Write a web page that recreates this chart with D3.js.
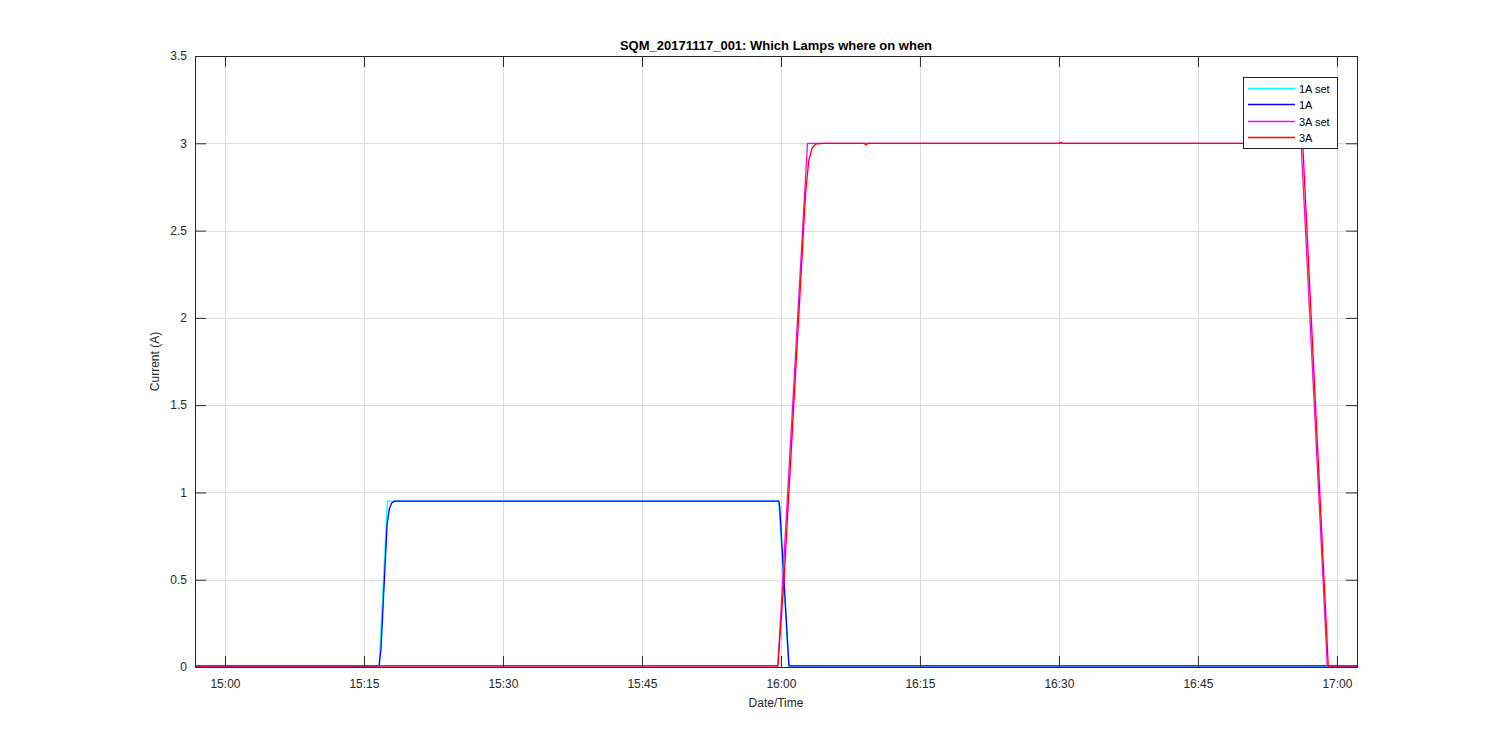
<!DOCTYPE html>
<meta charset="utf-8">
<body style="margin:0;background:#fff">
    <div id="chart"></div>
</body>
<script src="https://cdn.jsdelivr.net/npm/d3@7"></script>
<style>
    body { font-family: "Liberation Sans", Arial, sans-serif; }
    .grid line { stroke: #dcdcdc; stroke-width: 1px; }
    .tick text { font-size: 12px; fill: #262626; }
</style>
<script>
    // readings, 2017-11-17
    var set1aTimes = ["14:56:46", "15:16:38", "15:17:32", "15:59:46", "16:00:50", "17:02:10"];
    var set1aVals  = [0.006, 0.006, 0.95, 0.95, 0.007, 0.007];

    var meas1aTimes = ["14:56:46", "15:16:38", "15:16:50", "15:17:30", "15:17:45", "15:18:00", "15:18:20",
                       "15:59:46", "15:59:52", "16:00:52", "17:02:10"];
    var meas1aVals  = [0.006, 0.006, 0.1, 0.82, 0.91, 0.94, 0.95,
                       0.95, 0.92, 0.007, 0.007];

    var set3aTimes = ["14:56:46", "15:59:40", "16:02:52", "16:56:08", "16:58:58", "17:02:10"];
    var set3aVals  = [0.006, 0.006, 3.0, 3.0, 0.006, 0.006];

    var meas3aTimes = ["14:56:46", "15:59:40", "16:00:20", "16:02:40", "16:03:00", "16:03:20", "16:03:45", "16:04:30",
                       "16:09:00", "16:09:10", "16:09:25", "16:30:00", "16:30:10", "16:30:25",
                       "16:56:10", "16:56:20", "16:59:04", "17:02:10"];
    var meas3aVals  = [0.006, 0.006, 0.5, 2.72, 2.9, 2.97, 2.995, 3.0,
                       3.0, 2.99, 3.0, 3.0, 3.006, 3.0,
                       3.0, 2.97, 0.006, 0.006];

    var xTicks = ["15:00", "15:15", "15:30", "15:45", "16:00", "16:15", "16:30", "16:45", "17:00"];
    var yTicks = [0, 0.5, 1, 1.5, 2, 2.5, 3, 3.5];

    var legendNames = ["1A set", "1A", "3A set", "3A"];
    var lineColors  = ["#00ffff", "#0000ff", "#ff00ff", "#ff0000"];

    var width = 1500,
        height = 750;
    var plotL = 195, plotR = 1357, plotT = 56, plotB = 667;

    var parse = d3.timeParse("%Y-%m-%d %H:%M:%S");
    function toDate(t) {
        if (t.length == 5) t = t + ":00";
        return parse("2017-11-17 " + t);
    }

    var svg = d3.select("#chart")
        .append("svg")
            .attr("width", width)
            .attr("height", height);

    var x = d3.scaleTime()
        .domain([toDate("14:56:46"), toDate("17:02:10")])
        .range([plotL, plotR]);

    var y = d3.scaleLinear()
        .domain([0, 3.5])
        .range([plotB, plotT]);

    var xTickDates = xTicks.map(toDate);

    // grid
    var grid = svg.append("g").attr("class", "grid");
    grid.selectAll(".vx").data(xTickDates).enter().append("line")
        .attr("x1", function(d) { return Math.round(x(d)) + 0.5; })
        .attr("x2", function(d) { return Math.round(x(d)) + 0.5; })
        .attr("y1", plotT).attr("y2", plotB);
    grid.selectAll(".hy").data(yTicks).enter().append("line")
        .attr("y1", function(d) { return Math.round(y(d)) + 0.5; })
        .attr("y2", function(d) { return Math.round(y(d)) + 0.5; })
        .attr("x1", plotL).attr("x2", plotR);

    // series
    var series = [
        { t: set1aTimes, v: set1aVals },
        { t: meas1aTimes, v: meas1aVals },
        { t: set3aTimes, v: set3aVals },
        { t: meas3aTimes, v: meas3aVals }
    ];

    var line = d3.line()
        .x(function(d) { return x(d[0]); })
        .y(function(d) { return y(d[1]); });

    series.forEach(function(s, i) {
        var pts = s.t.map(function(t, j) { return [toDate(t), s.v[j]]; });
        svg.append("path")
            .datum(pts)
            .attr("fill", "none")
            .attr("stroke", lineColors[i])
            .attr("stroke-width", 1.3)
            .attr("stroke-linejoin", "round")
            .attr("d", line);
    });

    // axes, ticks inward on all four sides
    var tickLen = 11;
    var xAxis = d3.axisBottom(x).tickValues(xTickDates).tickFormat(d3.timeFormat("%H:%M"))
        .tickSizeInner(-tickLen).tickSizeOuter(0).tickPadding(12);
    var yAxis = d3.axisLeft(y).tickValues(yTicks).tickFormat(function(d) { return d; })
        .tickSizeInner(-tickLen).tickSizeOuter(0).tickPadding(8);

    svg.append("g").attr("transform", "translate(0," + plotB + ")").call(xAxis);
    svg.append("g").attr("transform", "translate(" + plotL + ",0)").call(yAxis);
    svg.append("g").attr("transform", "translate(0," + plotT + ")")
        .call(d3.axisTop(x).tickValues(xTickDates).tickFormat("").tickSizeInner(-tickLen).tickSizeOuter(0));
    svg.append("g").attr("transform", "translate(" + plotR + ",0)")
        .call(d3.axisRight(y).tickValues(yTicks).tickFormat("").tickSizeInner(-tickLen).tickSizeOuter(0));

    svg.selectAll(".domain").attr("stroke", "#262626");
    svg.selectAll(".tick line").attr("stroke", "#262626");

    svg.append("rect")
        .attr("x", plotL + 0.5).attr("y", plotT + 0.5)
        .attr("width", plotR - plotL).attr("height", plotB - plotT)
        .attr("fill", "none").attr("stroke", "#262626");

    // labels
    svg.append("text")
        .attr("x", (plotL + plotR) / 2).attr("y", 50)
        .attr("text-anchor", "middle")
        .attr("font-size", 13).attr("font-weight", "bold").attr("fill", "#000")
        .text("SQM_20171117_001: Which Lamps where on when");

    svg.append("text")
        .attr("x", (plotL + plotR) / 2).attr("y", 707)
        .attr("text-anchor", "middle")
        .attr("font-size", 12).attr("fill", "#262626")
        .text("Date/Time");

    svg.append("text")
        .attr("transform", "translate(159," + (plotT + plotB) / 2 + ") rotate(-90)")
        .attr("text-anchor", "middle")
        .attr("font-size", 12).attr("fill", "#262626")
        .text("Current (A)");

    // legend
    var legend = svg.append("g").attr("transform", "translate(1243,77)");
    legend.append("rect")
        .attr("x", 0.5).attr("y", 0.5).attr("width", 94).attr("height", 71)
        .attr("fill", "#fff").attr("stroke", "#262626");
    legendNames.forEach(function(name, i) {
        var yy = Math.round(11 + i * 16.3) + 0.5;
        legend.append("line")
            .attr("x1", 5).attr("x2", 52).attr("y1", yy).attr("y2", yy)
            .attr("stroke", lineColors[i]).attr("stroke-width", 1.3);
        legend.append("text")
            .attr("x", 56).attr("y", yy + 4)
            .attr("font-size", 11).attr("fill", "#000")
            .text(name);
    });
</script>
